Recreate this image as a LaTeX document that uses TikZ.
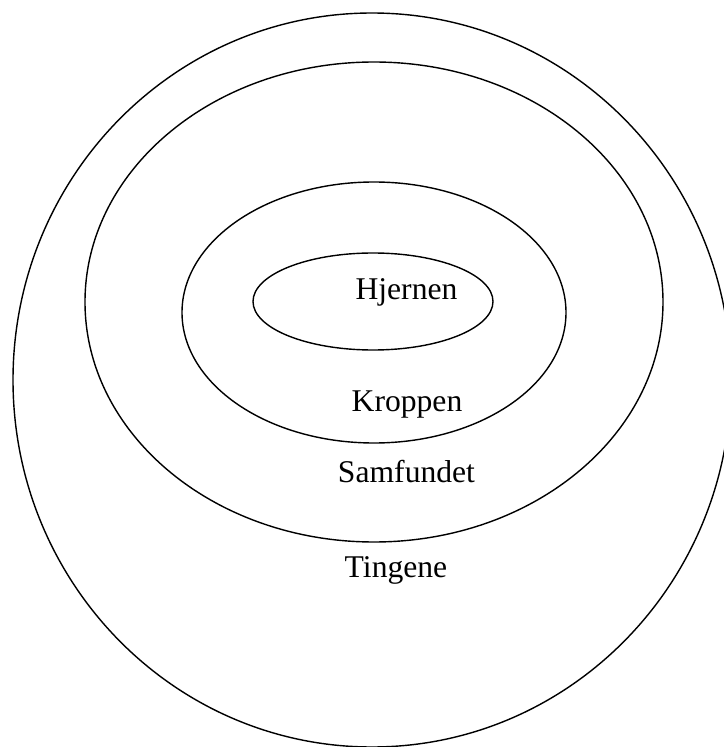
\documentclass[tikz,border=0pt]{standalone}
\usepackage{fontspec}
\setmainfont{Liberation Serif}
\usepackage{tikz}
\usetikzlibrary{positioning}

\tikzset{
  ring/.style={line width=0.4pt, black},
  ringlabel/.style={anchor=base, inner sep=0pt, font=\fontsize{9}{11}\selectfont}
}

\begin{document}
\begin{tikzpicture}

  % --- Ramme ---
  \useasboundingbox (0,0) rectangle (7.24,7.47);
  \clip (0,0) rectangle (7.24,7.47);

  % --- Ellipser (udefra og ind) ---
  \draw[ring] (3.72,3.67) ellipse [x radius=3.59, y radius=3.67];
  \draw[ring] (3.74,4.45) ellipse [x radius=2.89, y radius=2.40];
  \draw[ring] (3.74,4.345) ellipse [x radius=1.92, y radius=1.305];
  \draw[ring] (3.73,4.455) ellipse [x radius=1.20, y radius=0.485];

  % --- Tekster ---
  \node[ringlabel] (hjernen)   at (4.065,4.47) {Hjernen};
  \node[ringlabel] (kroppen)   at (4.07,3.35)  {Kroppen};
  \node[ringlabel] (samfundet) at (4.065,2.64) {Samfundet};
  \node[ringlabel] (tingene)   at (3.96,1.70)  {Tingene};

\end{tikzpicture}
\end{document}
